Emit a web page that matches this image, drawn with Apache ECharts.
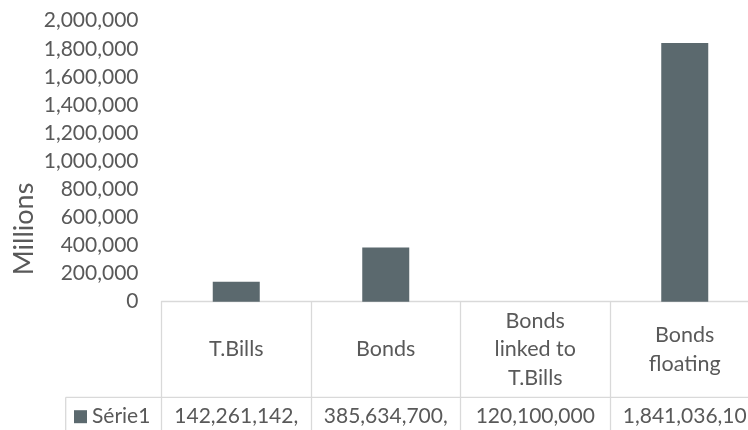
<!DOCTYPE html>
<html>
<head>
<meta charset="utf-8">
<script src="https://cdn.jsdelivr.net/npm/echarts@6/dist/echarts.min.js"></script>
<style>
  html, body { margin: 0; padding: 0; background: #ffffff; overflow: hidden; }
  #chart { width: 760px; height: 430px; }
</style>
</head>
<body>
<div id="chart"></div>
<script>
// Outstanding amounts by instrument (raw units); the axis shows them in millions.
const categories = ['T.Bills', 'Bonds', 'Bonds\nlinked to\nT.Bills', 'Bonds\nfloating'];
const seriesName = 'Série1';
const seriesValues = [142261142000, 385634700000, 120100000, 1841036100000];
const yMin = 0;
const yMax = 2000000;
const yInterval = 200000;
const axisTitle = 'Millions';

const TEXT = '#595959';
const LINE = '#d9d9d9';
const BAR = '#5b696e';
const FONT = 'Lato';

const fmt = v => Math.round(v).toLocaleString('en-US');

const chart = echarts.init(document.getElementById('chart'), null, { renderer: 'canvas' });

chart.setOption({
  animation: false,
  backgroundColor: '#ffffff',
  textStyle: { fontFamily: FONT },
  grid: { left: 161.5, right: 0.5, top: 20.7, bottom: 128.3 },
  legend: {
    data: [seriesName],
    left: 74,
    top: 404.2,
    padding: 0,
    icon: 'rect',
    itemWidth: 13,
    itemHeight: 13,
    selectedMode: false,
    textStyle: { color: TEXT, fontSize: 21, fontFamily: FONT, lineHeight: 25, padding: [0, 0, 0, 0] }
  },
  xAxis: [
    {
      type: 'category',
      data: categories,
      axisLine: { lineStyle: { color: LINE, width: 1.3 } },
      axisTick: { show: true, length: 130, lineStyle: { color: LINE, width: 1.3 } },
      axisLabel: {
        interval: 0, color: TEXT, fontSize: 21.5, fontFamily: FONT,
        lineHeight: 28.3, margin: 47.8, verticalAlign: 'middle', align: 'center'
      },
      splitLine: { show: false }
    },
    {
      // data-table row: one value per category
      type: 'category',
      data: categories,
      position: 'bottom',
      axisLine: { show: false },
      axisTick: { show: false },
      axisLabel: {
        interval: 0, color: TEXT, fontSize: 21, fontFamily: FONT,
        margin: 115, verticalAlign: 'middle', align: 'center',
        width: 130, overflow: 'truncate', ellipsis: '',
        formatter: (v, i) => fmt(seriesValues[i])
      },
      splitLine: { show: false }
    }
  ],
  yAxis: {
    type: 'value',
    min: yMin,
    max: yMax,
    interval: yInterval,
    axisLine: { show: false },
    axisTick: { show: false },
    splitLine: { show: false },
    axisLabel: {
      color: TEXT, fontSize: 21, fontFamily: FONT, margin: 23,
      formatter: v => fmt(v)
    }
  },
  series: [{
    type: 'bar',
    name: seriesName,
    xAxisIndex: 0,
    data: seriesValues.map(v => v / 1e6),
    barWidth: 47,
    itemStyle: { color: BAR }
  }],
  graphic: [
    {
      type: 'text',
      x: 24, y: 229,
      rotation: Math.PI / 2,
      style: { text: axisTitle, fill: TEXT, font: '27px ' + FONT, align: 'center', verticalAlign: 'middle' }
    },
    {
      type: 'line',
      shape: { x1: 65.7, y1: 397.3, x2: 760, y2: 397.3 },
      style: { stroke: LINE, lineWidth: 1.3 }
    },
    {
      type: 'line',
      shape: { x1: 65.7, y1: 397.3, x2: 65.7, y2: 432 },
      style: { stroke: LINE, lineWidth: 1.3 }
    }
  ]
});
</script>
</body>
</html>
